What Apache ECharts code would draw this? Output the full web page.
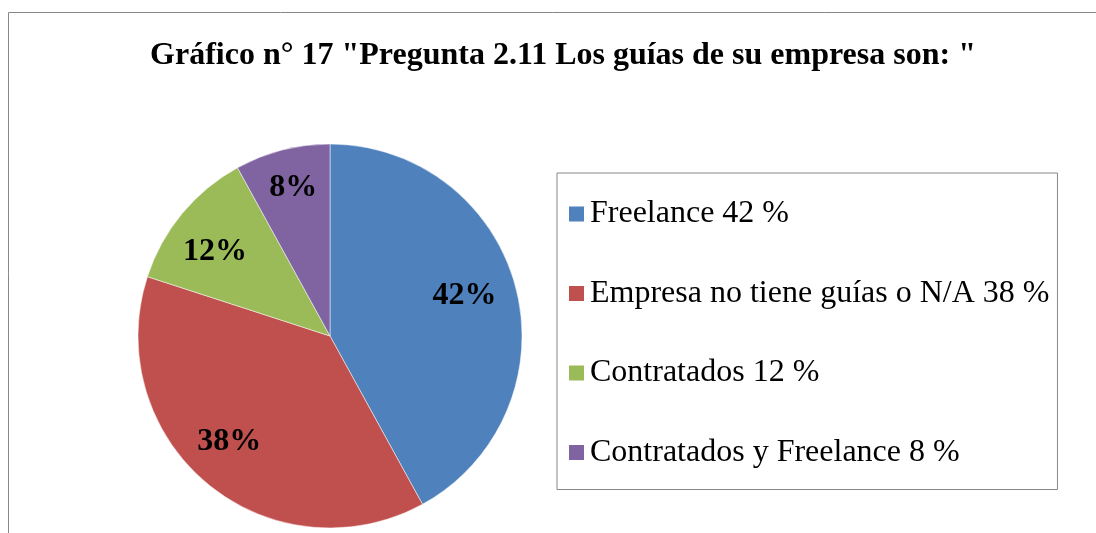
<!DOCTYPE html>
<html>
<head>
<meta charset="utf-8">
<script src="https://cdn.jsdelivr.net/npm/echarts@6/dist/echarts.min.js"></script>
<style>
html,body{margin:0;padding:0;background:#fff;}
#main{width:1096px;height:533px;}
</style>
</head>
<body>
<div id="main"></div>
<script>
var titleText = 'Gráfico n° 17 "Pregunta 2.11 Los guías de su empresa son: "';
var names = ['Freelance', 'Empresa no tiene guías o N/A', 'Contratados', 'Contratados y Freelance'];
var values = [42, 38, 12, 8];
var colors = ['#4F81BD', '#C0504D', '#9BBB59', '#8064A2'];
// small nudges so labels sit where Excel's best-fit put them
var labelNudge = [[-5, -4], [-9, -5], [-4, 8], [-1, -9]];

var serif = '"Liberation Serif", "DejaVu Serif", serif';
var pieData = [], labelData = [];
for (var i = 0; i < names.length; i++) {
    pieData.push({ name: names[i], value: values[i], itemStyle: { color: colors[i] } });
    labelData.push({ name: names[i], value: values[i], label: { offset: labelNudge[i] } });
}
var valueOf = {};
for (var j = 0; j < names.length; j++) valueOf[names[j]] = values[j];

var chart = echarts.init(document.getElementById('main'));
chart.setOption({
    animation: false,
    title: {
        text: titleText,
        left: 558,
        textAlign: 'center',
        top: 35,
        textStyle: { fontFamily: serif, fontWeight: 'bold', fontSize: 32, color: '#000' }
    },
    legend: {
        orient: 'vertical',
        left: 557,
        top: 173,
        padding: [23, 8, 19, 10],
        borderColor: '#878787',
        borderWidth: 1,
        icon: 'rect',
        itemWidth: 17,
        itemHeight: 17,
        itemGap: 43.5,
        data: names,
        formatter: function (n) { return n + ' ' + valueOf[n] + ' %'; },
        textStyle: { fontFamily: serif, fontSize: 32, color: '#000', lineHeight: 36 }
    },
    graphic: [{
        type: 'rect',
        silent: true,
        shape: { x: 8.5, y: 12.5, width: 1200, height: 700 },
        style: { fill: 'none', stroke: '#878787', lineWidth: 1 }
    }],
    series: [{
        type: 'pie',
        center: [330, 336],
        radius: [0, 192],
        startAngle: 90,
        clockwise: true,
        label: { show: false },
        labelLine: { show: false },
        itemStyle: { borderColor: '#ffffff', borderWidth: 0.5 },
        data: pieData
    }, {
        type: 'pie',
        silent: true,
        center: [330, 336],
        radius: [92, 190],
        startAngle: 90,
        clockwise: true,
        itemStyle: { color: 'rgba(0,0,0,0)' },
        label: {
            show: true,
            position: 'inside',
            formatter: '{d}%',
            fontFamily: serif,
            fontWeight: 'bold',
            fontSize: 32,
            color: '#000'
        },
        labelLine: { show: false },
        data: labelData
    }]
});
</script>
</body>
</html>
